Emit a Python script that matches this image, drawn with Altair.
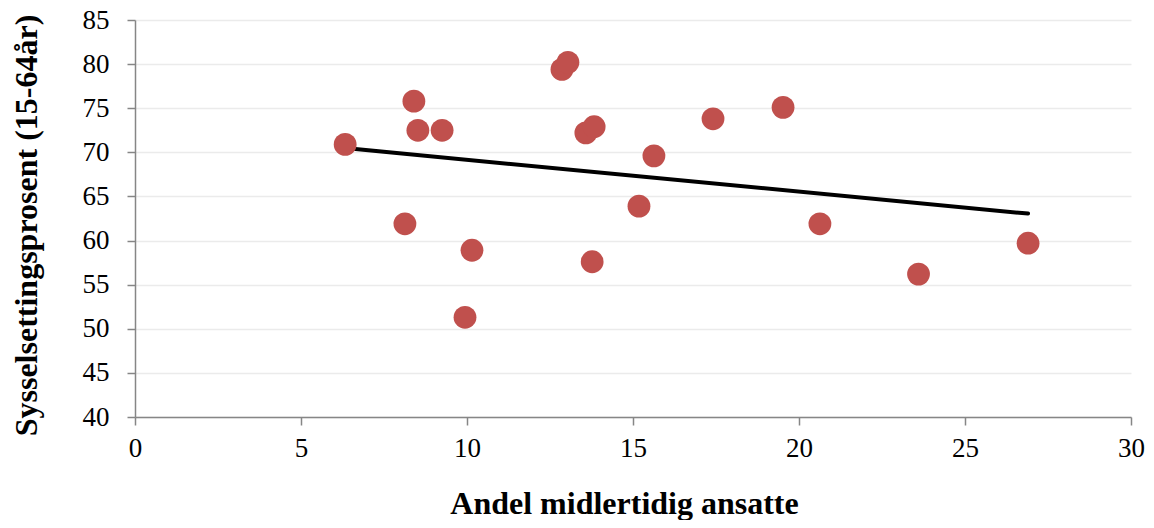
import altair as alt
import pandas as pd

andel = [6.33, 8.13, 8.40, 8.52, 9.25, 9.94, 10.15, 12.86, 13.04, 13.58,
         13.83, 13.77, 15.18, 15.63, 17.41, 19.52, 20.63, 23.60, 26.90]
syss = [70.9, 61.9, 75.8, 72.5, 72.5, 51.3, 58.9, 79.4, 80.2, 72.2,
        72.9, 57.6, 63.9, 69.6, 73.8, 75.1, 61.9, 56.2, 59.7]

df = pd.DataFrame({"x": andel, "y": syss})

FONT = "Liberation Serif"

xenc = alt.X("x:Q", scale=alt.Scale(domain=[0, 30], nice=False),
             axis=alt.Axis(values=[0, 5, 10, 15, 20, 25, 30], grid=False,
                           title="Andel midlertidig ansatte", labelFlush=False,
                           titleX=489, titlePadding=27, labelPadding=10))
yenc = alt.Y("y:Q", scale=alt.Scale(domain=[40, 85], nice=False, zero=False),
             axis=alt.Axis(values=list(range(40, 90, 5)), grid=True,
                           title="Sysselsettingsprosent (15-64år)", labelFlush=False,
                           titleY=205, titlePadding=39, labelPadding=18))

points = alt.Chart(df).mark_circle(size=520, color="#C0504D", opacity=1).encode(x=xenc, y=yenc)

trend = alt.Chart(df).transform_regression("x", "y").mark_line(
    color="black", strokeWidth=4, strokeCap="round").encode(x="x:Q", y="y:Q")

chart = alt.layer(trend, points).properties(
    width=996, height=397,
    autosize=alt.AutoSizeParams(type="none"),
    padding={"left": 127, "top": 12, "right": 15, "bottom": 103},
).configure_view(stroke=None).configure_axis(
    labelFont=FONT, titleFont=FONT, labelFontSize=27, titleFontSize=32,
    labelColor="black", titleColor="black", titleFontWeight="bold",
    domainColor="#868686", tickColor="#868686", tickSize=8, domainWidth=1.5,
    tickWidth=1.5, gridColor="#EBEBEB", gridWidth=1.5,
)

chart.save("out.html", embed_options={"renderer": "svg", "actions": False})
